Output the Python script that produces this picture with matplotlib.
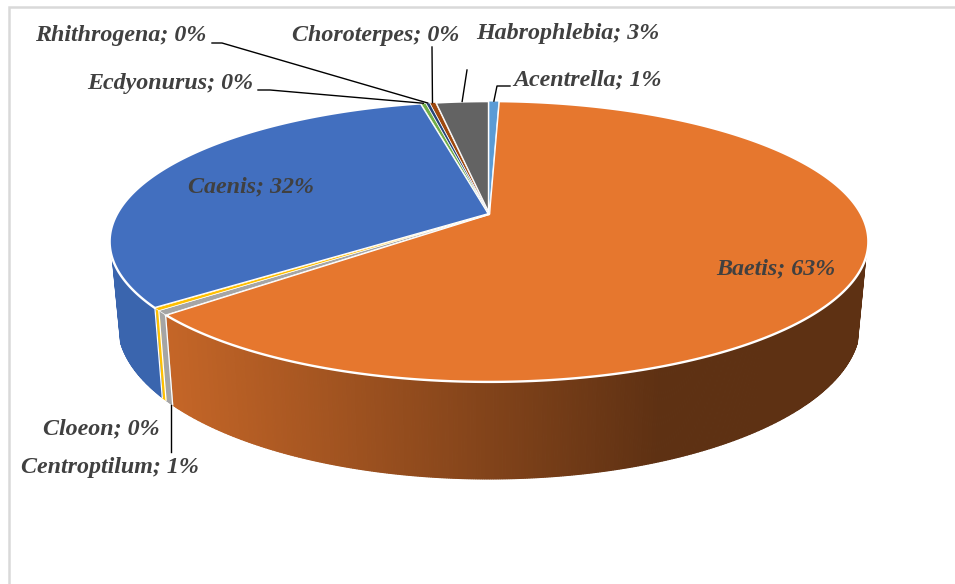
import numpy as np
import matplotlib
matplotlib.use('Agg')
import matplotlib.pyplot as plt
from matplotlib.patches import Polygon
from matplotlib.colors import to_rgb

# percent values, clockwise from 12 o'clock
names = ['Acentrella', 'Baetis', 'Centroptilum', 'Cloeon', 'Caenis',
         'Ecdyonurus', 'Rhithrogena', 'Choroterpes', 'Habrophlebia']
values = [0.5, 63.2, 0.5, 0.3, 32.0, 0.25, 0.2, 0.3, 2.75]
shown = ['1%', '63%', '1%', '0%', '32%', '0%', '0%', '0%', '3%']
colors = ['#5B9BD5', '#E6772E', '#A5A5A5', '#FFC000', '#426FBF',
          '#70AD47', '#264478', '#9E480E', '#636363']

# pie geometry in pixels
apex_x, apex_y = 489, 214
B, A, k = 372, 135, 0.196
top_cy, top_ry = 241.5, 140.5
bot_cy, bot_ry = 324, 155
bot_scale = 0.978
wall_top = 258  # wall only starts below this y

# label left edge / vertical middle
label_pos = {'Acentrella': (513, 80), 'Baetis': (716, 269), 'Centroptilum': (21, 467),
             'Cloeon': (43, 429), 'Caenis': (188, 187), 'Ecdyonurus': (87, 83),
             'Rhithrogena': (35, 36), 'Choroterpes': (292, 35), 'Habrophlebia': (476, 33)}
# leader line start and elbow points, the end is on the slice rim
leaders = {'Acentrella': [(510, 86), (497, 86)], 'Centroptilum': [(171, 452)],
           'Ecdyonurus': [(258, 90), (270, 90)], 'Rhithrogena': [(212, 43), (222, 43)],
           'Choroterpes': [(432, 47)], 'Habrophlebia': [(467, 70)]}


def rim(t):
    # t is clockwise from top, radians, perspective circle
    u, v = np.sin(t), np.cos(t)
    d = 1 + k * v
    return apex_x + B * u / d, apex_y - A * v / d


def lower(x, y):
    return apex_x + (x - apex_x) * bot_scale, bot_cy + (y - top_cy) * bot_ry / top_ry


def shade(col, t):
    # wall colour, darker towards the right hand side
    c = np.array(to_rgb(col))
    x, _ = rim(t)
    f = np.clip((x - 160) / (660 - 160), 0, 1)
    return tuple(c * (0.86 - 0.45 * f))


fig = plt.figure(figsize=(9.55, 5.84), dpi=100)
ax = fig.add_axes([0, 0, 1, 1])
ax.set_xlim(0, 955)
ax.set_ylim(584, 0)
ax.axis('off')

# chart frame
ax.plot([9, 9, 955], [584, 7, 7], color='#D9D9D9', lw=1.8, solid_joinstyle='miter')

edges = 2 * np.pi * np.cumsum([0] + values) / sum(values)

# side wall
for i in range(len(values)):
    ts = np.linspace(edges[i], edges[i + 1], max(int((edges[i + 1] - edges[i]) * 200), 2))
    for t0, t1 in zip(ts[:-1], ts[1:]):
        x0, y0 = rim(t0)
        x1, y1 = rim(t1)
        if y0 < wall_top or y1 < wall_top:
            continue
        q = [(x0, y0), (x1, y1), lower(x1, y1), lower(x0, y0)]
        c = shade(colors[i], (t0 + t1) / 2)
        if i != 1 and i != 4:
            c = colors[i]
        if i == 4:
            c = '#3A65AE'
        ax.add_patch(Polygon(q, closed=True, fc=c, ec=c, lw=0.9, zorder=2))

# white seams on the front wall
for e in edges:
    if np.pi * 0.6 < e < np.pi * 1.4:
        x, y = rim(e)
        xb, yb = lower(x, y)
        ax.plot([x, xb], [y, yb], color='white', lw=0.9, zorder=3)

# top surface, big slices first so the thin ones keep their colour
for i in np.argsort(values)[::-1]:
    ts = np.linspace(edges[i], edges[i + 1], max(int((edges[i + 1] - edges[i]) * 120), 2))
    pts = [(apex_x, apex_y)] + [rim(t) for t in ts]
    lw = 1.7 if values[i] > 1 else 0.5
    ax.add_patch(Polygon(pts, closed=True, fc=colors[i], ec='white', lw=lw,
                         joinstyle='round', zorder=4))

# leaders
for i, n in enumerate(names):
    if n in leaders:
        xs, ys = zip(*leaders[n])
        ex, ey = rim((edges[i] + edges[i + 1]) / 2)
        if n == 'Centroptilum':
            ex, ey = xs[0], lower(ex, ey)[1] + 2
        ax.plot(list(xs) + [ex], list(ys) + [ey], color='black', lw=1.0, zorder=5)

# labels
for n, s in zip(names, shown):
    x, y = label_pos[n]
    ax.text(x, y, n + '; ' + s, family='Liberation Serif', style='italic', weight='bold',
            fontsize=17.3, color='#404040', ha='left', va='center', zorder=6)

fig.savefig('out.png', dpi=100)
